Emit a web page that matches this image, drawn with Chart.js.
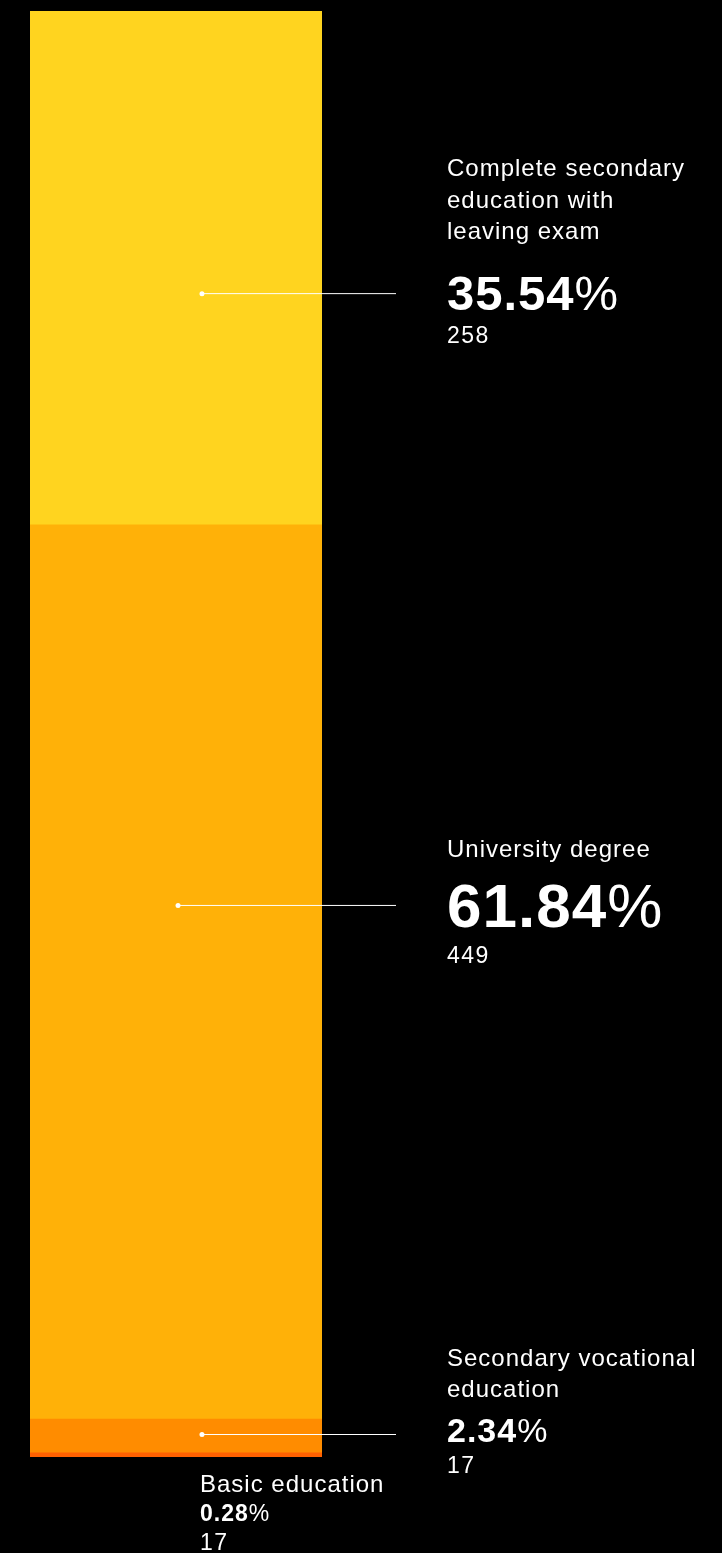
<!DOCTYPE html>
<html>
<head>
<meta charset="utf-8">
<script src="https://cdn.jsdelivr.net/npm/chart.js@4/dist/chart.umd.min.js"></script>
<style>
  html, body { margin: 0; padding: 0; background: #000; }
  #wrap { width: 722px; height: 1553px; position: relative; }
</style>
</head>
<body>
<div id="wrap"><canvas id="c" width="722" height="1553"></canvas></div>
<script>
// ---- Data (stacked bottom to top) ----
const categories = ['Basic education', 'Secondary vocational education', 'University degree', 'Complete secondary education with leaving exam'];
const categoryLines = [
  ['Basic education'],
  ['Secondary vocational', 'education'],
  ['University degree'],
  ['Complete secondary', 'education with', 'leaving exam']
];
const percentages = [0.28, 2.34, 61.84, 35.54];
const counts = [17, 17, 449, 258];

// ---- Styles / layout ----
const colors = ['#FF6100', '#FF8C00', '#FFB108', '#FFD41F'];
const FONT = '"Liberation Sans", Arial, Helvetica, sans-serif';
const annotations = [
  { below: true, x: 200, labelDy: 35, pctDy: 64, countDy: 93, pctSize: 23 },
  { dotFrac: 0.589, anchorFrac: 0.44, pctSize: 34, labelLastDy: -37, pctDy: 8, countDy: 39 },
  { dotFrac: 0.507, anchorFrac: 0.425, pctSize: 62, labelLastDy: -48, pctDy: 22, countDy: 58 },
  { dotFrac: 0.589, anchorFrac: 0.549, pctSize: 49, labelLastDy: -54, pctDy: 17, countDy: 50 }
];
const TEXT_X = 447, LINE_END_X = 396, LINE_H = 31.5;

function drawPct(ctx, value, x, y, size) {
  ctx.letterSpacing = '1px';
  ctx.font = 'bold ' + size + 'px ' + FONT;
  const num = value.toFixed(2);
  ctx.fillText(num, x, y);
  const w = ctx.measureText(num).width;
  ctx.font = size + 'px ' + FONT;
  ctx.fillText('%', x + w, y);
}

const labelPlugin = {
  id: 'labels',
  afterDatasetsDraw(chart) {
    const ctx = chart.ctx;
    ctx.save();
    ctx.fillStyle = '#fff';
    ctx.strokeStyle = '#fff';
    ctx.textAlign = 'left';
    ctx.textBaseline = 'alphabetic';
    chart.data.datasets.forEach((ds, i) => {
      const el = chart.getDatasetMeta(i).data[0];
      const a = annotations[i];
      const left = el.x - el.width / 2;
      if (a.below) {
        const b = Math.max(el.base, el.y);
        ctx.letterSpacing = '1px';
        ctx.font = '24px ' + FONT;
        ctx.fillText(categoryLines[i][0], a.x, b + a.labelDy);
        drawPct(ctx, percentages[i], a.x, b + a.pctDy, a.pctSize);
        ctx.letterSpacing = '1.5px';
        ctx.font = '23px ' + FONT;
        ctx.fillText(String(counts[i]), a.x, b + a.countDy);
        return;
      }
      const top = Math.min(el.y, el.base), bot = Math.max(el.y, el.base);
      const L = top + (bot - top) * a.anchorFrac;
      const dx = left + el.width * a.dotFrac;
      ctx.lineWidth = 1;
      ctx.beginPath();
      ctx.moveTo(dx, L + 0.5);
      ctx.lineTo(LINE_END_X, L + 0.5);
      ctx.stroke();
      ctx.beginPath();
      ctx.arc(dx, L + 0.5, 2.5, 0, Math.PI * 2);
      ctx.fill();
      const lines = categoryLines[i];
      ctx.letterSpacing = '1px';
      ctx.font = '24px ' + FONT;
      lines.forEach((t, k) => {
        ctx.fillText(t, TEXT_X, L + a.labelLastDy - (lines.length - 1 - k) * LINE_H);
      });
      drawPct(ctx, percentages[i], TEXT_X, L + a.pctDy, a.pctSize);
      ctx.letterSpacing = '1.5px';
      ctx.font = '23px ' + FONT;
      ctx.fillText(String(counts[i]), TEXT_X, L + a.countDy);
    });
    ctx.restore();
  }
};

new Chart(document.getElementById('c'), {
  type: 'bar',
  data: {
    labels: ['Education'],
    datasets: categories.map((c, i) => ({
      label: c,
      data: [percentages[i]],
      backgroundColor: colors[i],
      borderWidth: 0,
      barPercentage: 1,
      categoryPercentage: 1
    }))
  },
  options: {
    responsive: false,
    animation: false,
    layout: { padding: { left: 30, right: 400, top: 11, bottom: 96 } },
    scales: {
      x: { display: false, stacked: true },
      y: { display: false, stacked: true, min: 0, max: 100 }
    },
    plugins: { legend: { display: false }, tooltip: { enabled: false } }
  },
  plugins: [labelPlugin]
});
</script>
</body>
</html>
